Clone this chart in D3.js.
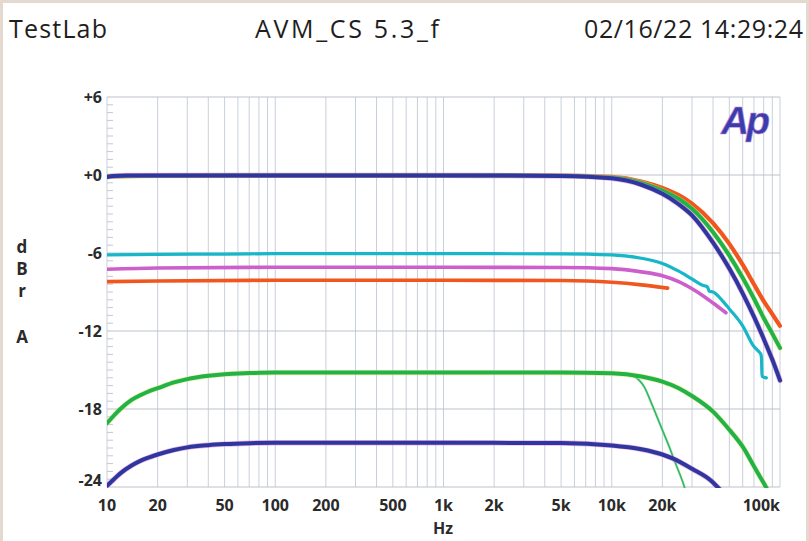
<!DOCTYPE html>
<html><head><meta charset="utf-8">
<script src="https://cdn.jsdelivr.net/npm/d3@7"></script>
<style>body{margin:0;background:#e3d9cf;} svg{display:block}</style>
</head><body><svg id="c" width="809" height="541"></svg>
<script>
// ---- data ----
const xTickValues = [10,20,50,100,200,500,1000,2000,5000,10000,20000,100000];
const xTickLabels = ["10","20","50","100","200","500","1k","2k","5k","10k","20k","100k"];
const yTickValues = [6,0,-6,-12,-18,-24];
const yTickLabels = ["+6","+0","-6","-12","-18","-24"];

const orangeTopF = [10,20,100,1000,5000,10000,15000,20000,25000,30000,40000,50000,60000,70000,80000,90000,100000];
const orangeTopV = [-0.1,-0.05,-0.03,-0.03,-0.04,-0.15,-0.5,-1.0,-1.55,-2.2,-3.7,-5.3,-6.9,-8.4,-9.7,-10.7,-11.6];
const greenTopF  = [10,20,100,1000,5000,10000,15000,20000,25000,30000,40000,50000,60000,70000,80000,90000,100000];
const greenTopV  = [-0.1,-0.05,-0.03,-0.03,-0.05,-0.2,-0.6,-1.2,-1.85,-2.6,-4.4,-6.2,-7.9,-9.5,-11.0,-12.2,-13.3];
const blueTopF   = [10,11,13,20,100,1000,5000,10000,15000,20000,25000,30000,40000,50000,60000,70000,80000,90000,100000];
const blueTopV   = [-0.15,-0.08,-0.03,-0.03,-0.03,-0.03,-0.07,-0.25,-0.75,-1.45,-2.25,-3.1,-5.2,-7.2,-9.1,-10.9,-12.6,-14.2,-15.8];

const cyanF = [10,20,50,100,1000,5000,10000,15000,20000,25000,30000,35000,37000,38000,40000,45000,50000,60000,70000,75000,77000,77600,78200,83000];
const cyanV = [-6.15,-6.1,-6.08,-6.05,-6.05,-6.07,-6.15,-6.4,-6.8,-7.4,-8.0,-8.5,-8.6,-8.95,-9.0,-9.6,-10.3,-11.6,-13.2,-13.6,-13.8,-14.1,-15.5,-15.6];
const magentaF = [10,20,100,1000,5000,10000,15000,20000,25000,30000,35000,40000,47700];
const magentaV = [-7.25,-7.15,-7.1,-7.1,-7.12,-7.2,-7.45,-7.75,-8.2,-8.75,-9.3,-9.85,-10.6];
const orangeLowF = [10,20,100,1000,5000,10000,15000,21500];
const orangeLowV = [-8.2,-8.15,-8.1,-8.1,-8.12,-8.25,-8.45,-8.7];

const greenLowF = [10,11,12,14,16,18,20,25,30,40,50,70,100,1000,5000,10000,15000,20000,25000,30000,40000,50000,60000,70000,80000,85000];
const greenLowV = [-19.1,-18.5,-18.0,-17.3,-16.9,-16.6,-16.4,-15.95,-15.7,-15.45,-15.32,-15.24,-15.2,-15.2,-15.2,-15.25,-15.5,-15.9,-16.4,-17.0,-18.2,-19.6,-20.9,-22.4,-23.7,-24.3];
const greenThinF = [10000,12000,13600,15600,17400,19400,21800,23800,26400,27500];
const greenThinV = [-15.25,-15.3,-15.5,-16.3,-17.7,-19.2,-20.8,-22.1,-23.6,-24.3];
const blueLowF = [10,11,12,14,16,18,20,25,30,40,50,70,100,1000,5000,10000,15000,20000,23000,30000,38800,44000];
const blueLowV = [-23.9,-23.4,-22.95,-22.35,-21.95,-21.7,-21.5,-21.15,-20.95,-20.78,-20.7,-20.63,-20.6,-20.6,-20.62,-20.8,-21.1,-21.5,-21.8,-22.6,-23.5,-24.2];

const series = [
  {f: greenThinF, v: greenThinV, color: "#1cb98a", width: 1.6, halo: "#e6e060"},
  {f: blueLowF, v: blueLowV, color: "#2e379e", width: 4, halo: "#d977d9"},
  {f: greenLowF, v: greenLowV, color: "#1fb34a", width: 4, halo: "#e8e25a"},
  {f: orangeLowF, v: orangeLowV, color: "#f0561e", width: 3.6},
  {f: magentaF, v: magentaV, color: "#cc5fcc", width: 3.6},
  {f: cyanF, v: cyanV, color: "#17b6c8", width: 3.2},
  {f: orangeTopF, v: orangeTopV, color: "#f0561e", width: 4.2},
  {f: greenTopF, v: greenTopV, color: "#1fb34a", width: 4, halo: "#e8e25a"},
  {f: blueTopF, v: blueTopV, color: "#2e379e", width: 4, halo: "#d977d9"}
];

// ---- layout ----
const svg = d3.select("#c");
svg.append("rect").attr("x",3).attr("y",3).attr("width",803).attr("height",538).attr("fill","#ffffff");

const x = d3.scaleLog().domain([10,100000]).range([107,780]);
const y = d3.scaleLinear().domain([-24,6]).range([487,97]);

// vertical grid (1..9 per decade)
const vGrid = [];
for (let d = 10; d < 100000; d *= 10) for (let k = 1; k < 10; k++) vGrid.push(d*k);
vGrid.push(100000);
svg.append("g").selectAll("line").data(vGrid).join("line")
  .attr("x1", d => x(d)).attr("x2", d => x(d))
  .attr("y1", y(6)).attr("y2", y(-24))
  .attr("stroke", "#c9cfda").attr("stroke-width", 1);

// horizontal grid
svg.append("g").selectAll("line").data(yTickValues).join("line")
  .attr("x1", x(10)).attr("x2", x(100000))
  .attr("y1", d => y(d)).attr("y2", d => y(d))
  .attr("stroke", "#bcc1cc").attr("stroke-width", 1);

// minor y ticks (every 0.6 dB)
const minor = d3.range(0, 51).map(i => 6 - i*0.6).filter(v => Math.abs(v/6 - Math.round(v/6)) > 1e-6);
svg.append("g").selectAll("line").data(minor).join("line")
  .attr("x1", x(10)).attr("x2", x(10)+6)
  .attr("y1", d => y(d)).attr("y2", d => y(d))
  .attr("stroke", "#c4c8d2").attr("stroke-width", 1);

// axes labels
const lab = {"font-family": "'Open Sans', sans-serif", "font-weight": 700, "font-size": "16px", "fill": "#2a2a2a"};
const yAx = svg.append("g").selectAll("text").data(yTickValues).join("text")
  .attr("x", 102).attr("y", d => y(d) + (d === -24 ? -1 : 5.5))
  .attr("text-anchor", "end")
  .text((d,i) => yTickLabels[i]);
Object.entries(lab).forEach(([k,v]) => yAx.attr(k, v));

const xAx = svg.append("g").selectAll("text").data(xTickValues).join("text")
  .attr("x", d => x(d)).attr("y", 511)
  .attr("text-anchor", d => d === 100000 ? "end" : "middle")
  .text((d,i) => xTickLabels[i]);
Object.entries(lab).forEach(([k,v]) => xAx.attr(k, v));

const hz = svg.append("text").attr("x", 443).attr("y", 534).attr("text-anchor","middle").text("Hz");
Object.entries(lab).forEach(([k,v]) => hz.attr(k, v));

const yl = svg.append("g");
[["d",247],["B",269],["r",291],["A",337]].forEach(([t,yy]) => {
  const e = yl.append("text").attr("x", 22).attr("y", yy + 6).attr("text-anchor","middle").text(t);
  Object.entries(lab).forEach(([k,v]) => e.attr(k, v));
  e.attr("font-size", "17px");
});

// title
const tf = {"font-family": "'Open Sans', sans-serif", "font-size": "25px", "fill": "#1e1e1e", "font-weight": 500};
[["TestLab", 9, 98], ["AVM_CS 5.3_f", 255, 184], ["02/16/22 14:29:24", 584, 219]].forEach(([t,xx,w]) => {
  const e = svg.append("text").attr("x", xx).attr("y", 38).attr("textLength", w).attr("lengthAdjust","spacing").text(t);
  Object.entries(tf).forEach(([k,v]) => e.attr(k, v));
});

// logo
svg.append("text").attr("x", 721).attr("y", 134)
  .attr("font-family", "'Liberation Sans', Arial, sans-serif").attr("font-style","italic").attr("font-weight",700)
  .attr("font-size", "39px").attr("letter-spacing", "-3px")
  .attr("fill", "#3a3daa").attr("stroke", "#c890e0").attr("stroke-width", 0.6)
  .text("Ap");

// curves
svg.append("clipPath").attr("id","clip").append("rect")
  .attr("x", x(10)).attr("y", y(6)).attr("width", x(100000)-x(10)+3).attr("height", y(-24)-y(6)+1);
const line = d3.line().x(d => x(d[0])).y(d => y(d[1])).curve(d3.curveMonotoneX);
const g = svg.append("g").attr("clip-path","url(#clip)");
series.forEach(s => {
  const pts = s.f.map((f,i) => [f, s.v[i]]);
  if (s.halo) g.append("path").attr("d", line(pts)).attr("fill","none")
    .attr("stroke", s.halo).attr("stroke-width", s.width + 1.4).attr("stroke-opacity", 0.55)
    .attr("stroke-linecap","round").attr("stroke-linejoin","round");
  g.append("path").attr("d", line(pts)).attr("fill","none")
    .attr("stroke", s.color).attr("stroke-width", s.width)
    .attr("stroke-linecap","round").attr("stroke-linejoin","round");
});
</script></body></html>
